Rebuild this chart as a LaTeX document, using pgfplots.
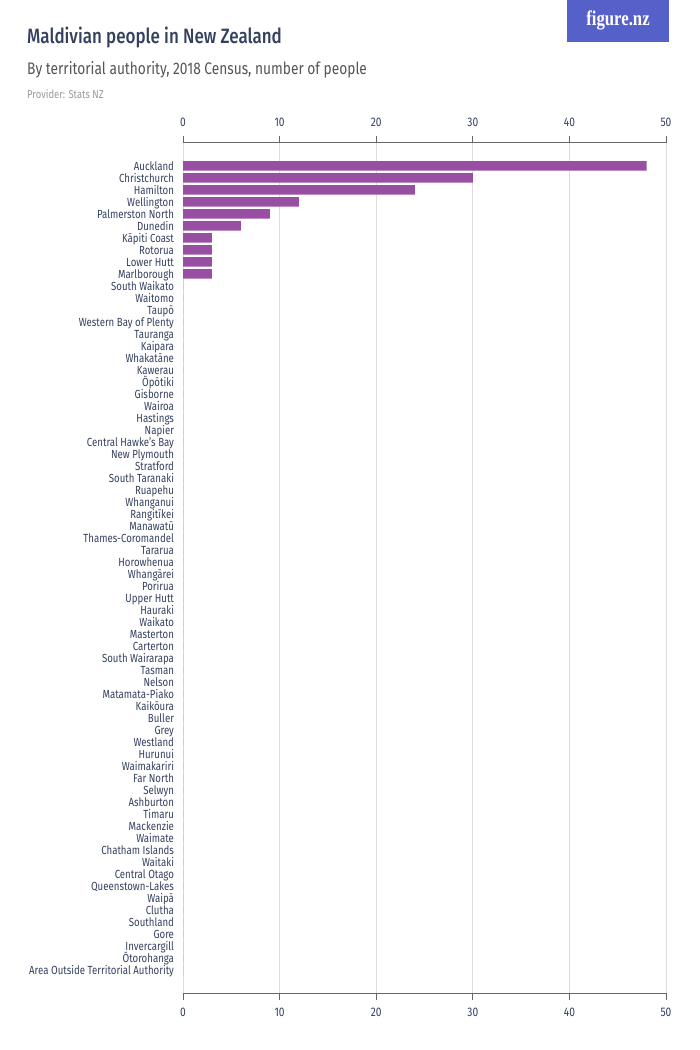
\documentclass[border=0pt]{standalone}
\usepackage{fontspec}
\setmainfont{Fira Sans}[FakeStretch=0.82]
\newfontfamily\titlefont{Fira Sans Medium}[FakeStretch=0.82]
\newfontfamily\logofont{Liberation Serif}[FakeStretch=0.8]
\usepackage{pgfplots}
\pgfplotsset{compat=1.18}
\definecolor{titlecol}{HTML}{34405E}
\definecolor{subcol}{HTML}{555555}
\definecolor{provcol}{HTML}{999999}
\definecolor{labelcol}{HTML}{34405E}
\definecolor{barcol}{HTML}{984EA3}
\definecolor{logoblue}{HTML}{5560C9}
\definecolor{axisgrey}{HTML}{666666}
\definecolor{gridgrey}{HTML}{DDDDDD}
\begin{document}
\begin{tikzpicture}
\path[use as bounding box] (0bp,0bp) rectangle (700bp,-1050bp);
\fill[logoblue] (567bp,0bp) rectangle (669bp,-42bp);
\node[white, font=\logofont\bfseries\fontsize{21}{22}\selectfont] at (618bp,-20bp) {figure.nz};
\node[anchor=base west, inner sep=0, text=titlecol, font=\titlefont\fontsize{20.8}{22}\selectfont] at (27bp,-43bp) {Maldivian people in New Zealand};
\node[anchor=base west, inner sep=0, text=subcol, font=\fontsize{16.8}{18}\selectfont] at (27bp,-74bp) {By territorial authority, 2018 Census, number of people};
\node[anchor=base west, inner sep=0, text=provcol, font=\fontsize{11.5}{12}\selectfont] at (27bp,-98bp) {Provider: Stats NZ};
\begin{axis}[
  at={(183bp,-993bp)}, anchor=south west,
  scale only axis, width=483bp, height=850bp,
  xmin=0, xmax=50, xtick={0,10,20,30,40,50},
  ymin=-1.9, ymax=68.9, y dir=reverse,
  axis x line*=bottom, axis y line*=left,
  x axis line style={draw=axisgrey, line width=1bp, -},
  y axis line style={draw=none},
  xmajorgrids, grid style={gridgrey, line width=0.8bp},
  xtick style={axisgrey, line width=1bp},
  ytick style={draw=none},
  tick align=outside, major tick length=7bp,
  /pgf/number format/assume math mode=true,
  xticklabel style={font=\fontsize{12.5}{13}\selectfont, text=labelcol, yshift=-4bp},
  ytick={0,...,67},
  yticklabels={Auckland,Christchurch,Hamilton,Wellington,Palmerston North,Dunedin,Kāpiti Coast,Rotorua,Lower Hutt,Marlborough,South Waikato,Waitomo,Taupō,Western Bay of Plenty,Tauranga,Kaipara,Whakatāne,Kawerau,Ōpōtiki,Gisborne,Wairoa,Hastings,Napier,Central Hawke's Bay,New Plymouth,Stratford,South Taranaki,Ruapehu,Whanganui,Rangitīkei,Manawatū,Thames-Coromandel,Tararua,Horowhenua,Whangārei,Porirua,Upper Hutt,Hauraki,Waikato,Masterton,Carterton,South Wairarapa,Tasman,Nelson,Matamata-Piako,Kaikōura,Buller,Grey,Westland,Hurunui,Waimakariri,Far North,Selwyn,Ashburton,Timaru,Mackenzie,Waimate,Chatham Islands,Waitaki,Central Otago,Queenstown-Lakes,Waipā,Clutha,Southland,Gore,Invercargill,Ōtorohanga,Area Outside Territorial Authority},
  yticklabel style={font=\fontsize{11.8}{12}\selectfont, text=labelcol, anchor=east, text height=8.5bp, text depth=2.5bp, xshift=1.5bp, yshift=-1.5bp},
]
\addplot[xbar, fill=barcol, draw=none, bar width=0.8] coordinates {
(48,0) (30,1) (24,2) (12,3) (9,4) (6,5) (3,6) (3,7) (3,8) (3,9)
(0,10) (0,11) (0,12) (0,13) (0,14) (0,15) (0,16) (0,17) (0,18) (0,19)
(0,20) (0,21) (0,22) (0,23) (0,24) (0,25) (0,26) (0,27) (0,28) (0,29)
(0,30) (0,31) (0,32) (0,33) (0,34) (0,35) (0,36) (0,37) (0,38) (0,39)
(0,40) (0,41) (0,42) (0,43) (0,44) (0,45) (0,46) (0,47) (0,48) (0,49)
(0,50) (0,51) (0,52) (0,53) (0,54) (0,55) (0,56) (0,57) (0,58) (0,59)
(0,60) (0,61) (0,62) (0,63) (0,64) (0,65) (0,66) (0,67)
};
\end{axis}
\begin{axis}[
  at={(183bp,-993bp)}, anchor=south west,
  scale only axis, width=483bp, height=850bp,
  xmin=0, xmax=50, xtick={0,10,20,30,40,50},
  ymin=-1.9, ymax=68.9,
  axis x line*=top, axis y line=none,
  x axis line style={draw=axisgrey, line width=1bp, -},
  xtick style={axisgrey, line width=1bp},
  tick align=outside, major tick length=7bp,
  /pgf/number format/assume math mode=true,
  xticklabel style={font=\fontsize{12.5}{13}\selectfont, text=labelcol, yshift=6bp},
]
\end{axis}
\end{tikzpicture}
\end{document}
